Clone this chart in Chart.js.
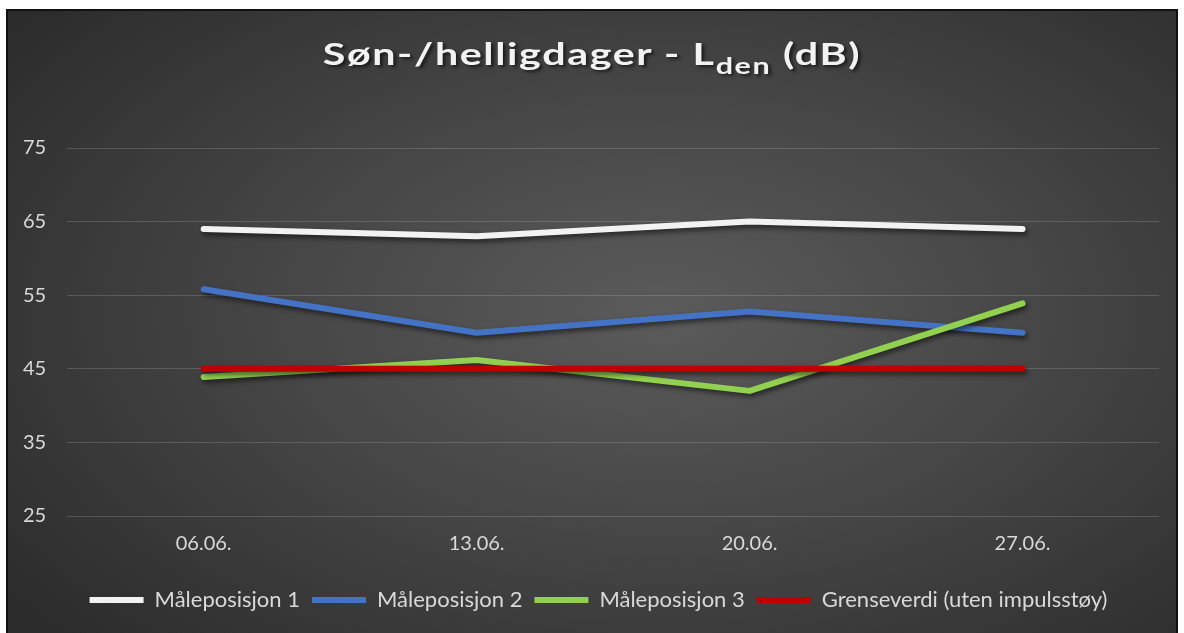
<!DOCTYPE html>
<html>
<head>
<meta charset="utf-8">
<script src="https://cdn.jsdelivr.net/npm/chart.js@4"></script>
<style>
    html, body { margin: 0; padding: 0; background: #fff; }
    #frame {
        position: absolute; left: 6px; top: 9px; width: 1168px; height: 630px;
        border: 2px solid #111;
        background: radial-gradient(ellipse 70% 75% at 56% 48%, #5b5b5b 0%, #474747 45%, #2c2c2c 100%);
    }
    #title {
        position: absolute; left: 0; top: 34px; width: 1184px; text-align: center;
        font-family: Lato, "Open Sans", sans-serif; font-weight: bold; font-size: 31px;
        color: #f2f2f2; letter-spacing: 1.2px;
        transform: scaleX(1.33);
        text-shadow: 2px 2px 3px rgba(0, 0, 0, 0.6);
    }
    #title sub { font-size: 23px; vertical-align: -9px; line-height: 0; }
    #wrap { position: absolute; left: 0; top: 0; width: 1184px; height: 633px; }
</style>
</head>
<body>
<div id="frame"></div>
<div id="wrap"><canvas id="chart" width="1184" height="633"></canvas></div>
<div id="title">Søn-/helligdager - L<sub>den</sub> (dB)</div>
<script>
const dates = ['06.06.', '13.06.', '20.06.', '27.06.'];
const pos1 = [64, 63, 65, 64];
const pos2 = [55.8, 49.9, 52.8, 49.9];
const pos3 = [43.9, 46.2, 42, 53.9];
const limit = [45, 45, 45, 45];
const seriesNames = ['Måleposisjon 1', 'Måleposisjon 2', 'Måleposisjon 3', 'Grenseverdi (uten impulsstøy)'];
const yTicks = [25, 35, 45, 55, 65, 75];

const textColor = '#d9d9d9';
const fontFamily = 'Lato, "Open Sans", sans-serif';

// Excel-style soft shadow under the lines
const lineShadow = {
    id: 'lineShadow',
    beforeDatasetsDraw(chart) {
        const ctx = chart.ctx;
        ctx.save();
        ctx.shadowColor = 'rgba(0, 0, 0, 0.55)';
        ctx.shadowBlur = 5;
        ctx.shadowOffsetX = 2;
        ctx.shadowOffsetY = 3;
    },
    afterDatasetsDraw(chart) {
        chart.ctx.restore();
    }
};

// legend sits a bit right of centre in the original
const legendShift = {
    id: 'legendShift',
    afterLayout(chart) {
        chart.legend.left += 18;
        chart.legend.right += 18;
    }
};

function makeSeries(label, data, color, order) {
    return {
        label: label,
        data: data,
        borderColor: color,
        backgroundColor: color,
        borderWidth: 6,
        borderCapStyle: 'round',
        borderJoinStyle: 'round',
        pointRadius: 0,
        tension: 0,
        order: order
    };
}

const ctx = document.getElementById('chart').getContext('2d');
new Chart(ctx, {
    type: 'line',
    data: {
        labels: dates,
        datasets: [
            makeSeries(seriesNames[0], pos1, '#f2f2f2', 4),
            makeSeries(seriesNames[1], pos2, '#4472c4', 3),
            makeSeries(seriesNames[2], pos3, '#92d050', 2),
            makeSeries(seriesNames[3], limit, '#c00000', 1)
        ]
    },
    options: {
        responsive: false,
        animation: false,
        layout: { padding: { left: 2, right: 25, top: 148, bottom: 12 } },
        plugins: {
            legend: {
                position: 'bottom',
                labels: {
                    usePointStyle: true,
                    pointStyleWidth: 54,
                    pointStyle: 'line',
                    color: textColor,
                    font: { family: fontFamily, size: 22 },
                    padding: 12,
                    sort: (a, b) => a.datasetIndex - b.datasetIndex
                }
            },
            tooltip: { enabled: false }
        },
        scales: {
            x: {
                offset: true,
                grid: { display: false },
                border: { display: false },
                ticks: { color: textColor, font: { family: fontFamily, size: 20 }, padding: 8 },
                afterFit: axis => { axis.height += 13; }
            },
            y: {
                min: yTicks[0],
                max: yTicks[yTicks.length - 1],
                afterBuildTicks: axis => { axis.ticks = yTicks.map(v => ({ value: v })); },
                grid: { color: 'rgba(255, 255, 255, 0.16)', drawTicks: false },
                border: { display: false },
                ticks: { color: textColor, font: { family: fontFamily, size: 20 }, padding: 21 }
            }
        }
    },
    plugins: [lineShadow, legendShift]
});
</script>
</body>
</html>
